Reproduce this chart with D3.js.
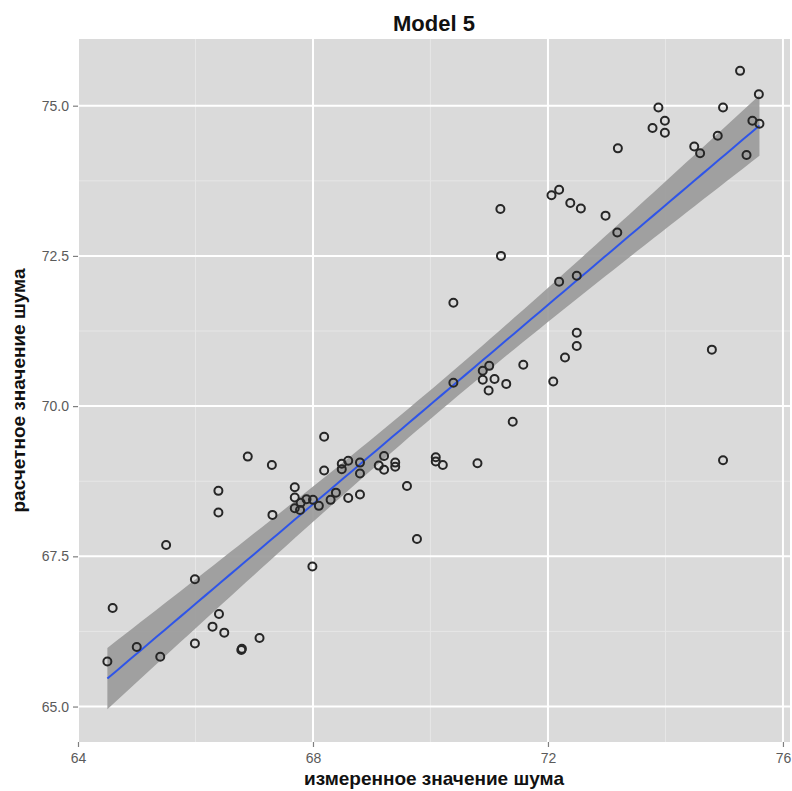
<!DOCTYPE html>
<html lang="ru">
<head>
  <meta charset="UTF-8">
  <title>Model 5</title>
  <script src="https://d3js.org/d3.v7.min.js"></script>
  <style>
    body {
      margin: 0;
      padding: 0;
      background: #fff;
      font-family: "Liberation Sans", Arial, sans-serif;
    }
  </style>
</head>
<body>
  <div id="chart"></div>

  <script>
    const measured = [
      65.50, 65.99, 64.59, 66.40, 66.29, 66.49, 67.09, 65.99, 65.00, 66.79,
      66.78, 65.40, 64.50, 66.39, 67.31, 67.99, 68.19, 66.89, 67.30, 66.39,
      68.19, 67.69, 67.69, 67.69, 67.79, 67.89, 68.00, 68.10, 67.78, 68.30,
      68.39, 68.60, 68.80, 68.49, 68.49, 68.60, 68.80, 68.80, 69.12, 69.21,
      69.21, 69.40, 69.40, 69.60, 69.77, 71.20, 70.39, 72.19, 72.49, 72.49,
      72.49, 72.29, 74.79, 71.58, 71.00, 70.89, 70.89, 71.09, 71.29, 70.99,
      72.09, 70.39, 71.40, 70.09, 70.09, 70.21, 70.80, 74.98, 71.19, 72.06,
      72.19, 72.38, 72.56, 75.27, 75.59, 73.88, 74.98, 73.99, 73.78, 73.99,
      74.89, 75.48, 75.60, 73.19, 74.49, 74.59, 75.38, 72.98, 73.18
    ];
    const predicted = [
      67.69, 67.12, 66.64, 66.54, 66.33, 66.23, 66.14, 66.05, 65.99, 65.96,
      65.94, 65.83, 65.75, 68.23, 68.19, 67.33, 69.49, 69.16, 69.02, 68.59,
      68.93, 68.65, 68.48, 68.30, 68.39, 68.45, 68.44, 68.34, 68.27, 68.44,
      68.56, 68.47, 68.53, 69.04, 68.95, 69.09, 69.06, 68.88, 69.01, 69.17,
      68.94, 69.06, 68.99, 68.67, 67.79, 72.50, 71.72, 72.07, 72.17, 71.22,
      71.00, 70.81, 70.94, 70.69, 70.67, 70.59, 70.44, 70.45, 70.37, 70.26,
      70.41, 70.39, 69.74, 69.15, 69.08, 69.02, 69.05, 69.10, 73.28, 73.51,
      73.60, 73.38, 73.29, 75.58, 75.19, 74.97, 74.97, 74.75, 74.63, 74.55,
      74.50, 74.75, 74.70, 74.29, 74.32, 74.21, 74.18, 73.17, 72.89
    ];
    const xTicks = [64, 68, 72, 76];
    const yTicks = [65.0, 67.5, 70.0, 72.5, 75.0];
    const xMinor = [66, 70, 74];
    const yMinor = [66.25, 68.75, 71.25, 73.75];

    const data = measured.map((m, i) => ({ x: m, y: predicted[i] }));

    const W = 792, H = 791;
    const panel = { left: 78, right: 790, top: 39, bottom: 742 };

    const svg = d3.select("#chart")
      .append("svg")
      .attr("width", W)
      .attr("height", H);

    const x = d3.scaleLinear()
      .domain([64, 76.12])
      .range([panel.left, panel.right]);

    const y = d3.scaleLinear()
      .domain([64.41, 76.11])
      .range([panel.bottom, panel.top]);

    // panel background
    svg.append("rect")
      .attr("x", panel.left)
      .attr("y", panel.top)
      .attr("width", panel.right - panel.left)
      .attr("height", panel.bottom - panel.top)
      .attr("fill", "#dadada");

    // minor grid
    svg.selectAll(".minor-x")
      .data(xMinor)
      .join("line")
      .attr("x1", d => x(d)).attr("x2", d => x(d))
      .attr("y1", panel.top).attr("y2", panel.bottom)
      .attr("stroke", "#e6e6e6")
      .attr("stroke-width", 1);

    svg.selectAll(".minor-y")
      .data(yMinor)
      .join("line")
      .attr("x1", panel.left).attr("x2", panel.right)
      .attr("y1", d => y(d)).attr("y2", d => y(d))
      .attr("stroke", "#e6e6e6")
      .attr("stroke-width", 1);

    // major grid
    svg.append("g")
      .selectAll("line")
      .data(xTicks)
      .join("line")
      .attr("x1", d => x(d)).attr("x2", d => x(d))
      .attr("y1", panel.top).attr("y2", panel.bottom)
      .attr("stroke", "#fff")
      .attr("stroke-width", 2);

    svg.append("g")
      .selectAll("line")
      .data(yTicks)
      .join("line")
      .attr("x1", panel.left).attr("x2", panel.right)
      .attr("y1", d => y(d)).attr("y2", d => y(d))
      .attr("stroke", "#fff")
      .attr("stroke-width", 2);

    // linear fit with 95% confidence band (like geom_smooth(method = "lm"))
    const n = data.length;
    const mx = d3.mean(data, d => d.x);
    const my = d3.mean(data, d => d.y);
    const sxx = d3.sum(data, d => (d.x - mx) ** 2);
    const sxy = d3.sum(data, d => (d.x - mx) * (d.y - my));
    const b = sxy / sxx;
    const a = my - b * mx;
    const s = Math.sqrt(d3.sum(data, d => (d.y - a - b * d.x) ** 2) / (n - 2));
    const tq = 1.988;

    const [xmin, xmax] = d3.extent(data, d => d.x);
    const fit = d3.range(81).map(i => {
      const xv = xmin + (xmax - xmin) * i / 80;
      const yv = a + b * xv;
      const se = s * Math.sqrt(1 / n + (xv - mx) ** 2 / sxx);
      return { x: xv, y: yv, lo: yv - tq * se, hi: yv + tq * se };
    });

    svg.append("path")
      .datum(fit)
      .attr("fill", "#999999")
      .attr("fill-opacity", 0.9)
      .attr("d", d3.area()
        .x(d => x(d.x))
        .y0(d => y(d.lo))
        .y1(d => y(d.hi)));

    svg.append("path")
      .datum(fit)
      .attr("fill", "none")
      .attr("stroke", "#2f55e8")
      .attr("stroke-width", 2)
      .attr("d", d3.line()
        .x(d => x(d.x))
        .y(d => y(d.y)));

    // points
    svg.append("g")
      .selectAll("circle")
      .data(data)
      .join("circle")
      .attr("cx", d => x(d.x))
      .attr("cy", d => y(d.y))
      .attr("r", 4)
      .attr("fill", "none")
      .attr("stroke", "#262626")
      .attr("stroke-width", 2);

    // axes
    const xAxis = svg.append("g")
      .attr("transform", `translate(0,${panel.bottom})`)
      .call(d3.axisBottom(x).tickValues(xTicks).tickSize(5).tickPadding(6).tickFormat(d3.format("d")));
    const yAxis = svg.append("g")
      .attr("transform", `translate(${panel.left},0)`)
      .call(d3.axisLeft(y).tickValues(yTicks).tickSize(5).tickPadding(4).tickFormat(d3.format(".1f")));

    [xAxis, yAxis].forEach(g => {
      g.select(".domain").remove();
      g.selectAll(".tick line").attr("stroke", "#7f7f7f").attr("stroke-width", 1.2);
      g.selectAll(".tick text")
        .attr("fill", "#5a5a5a")
        .style("font-family", "'Liberation Sans', Arial, sans-serif")
        .style("font-size", "14px");
    });

    // title and axis labels
    svg.append("text")
      .attr("x", (panel.left + panel.right) / 2)
      .attr("y", 31)
      .attr("text-anchor", "middle")
      .style("font-size", "22px")
      .style("font-weight", "bold")
      .attr("fill", "#111")
      .text("Model 5");

    svg.append("text")
      .attr("x", (panel.left + panel.right) / 2)
      .attr("y", 785)
      .attr("text-anchor", "middle")
      .style("font-size", "19px")
      .style("font-weight", "bold")
      .attr("fill", "#111")
      .text("измеренное значение шума");

    svg.append("text")
      .attr("transform", `translate(25,${(panel.top + panel.bottom) / 2}) rotate(-90)`)
      .attr("text-anchor", "middle")
      .style("font-size", "19px")
      .style("font-weight", "bold")
      .attr("fill", "#111")
      .text("расчетное значение шума");
  </script>
</body>
</html>
